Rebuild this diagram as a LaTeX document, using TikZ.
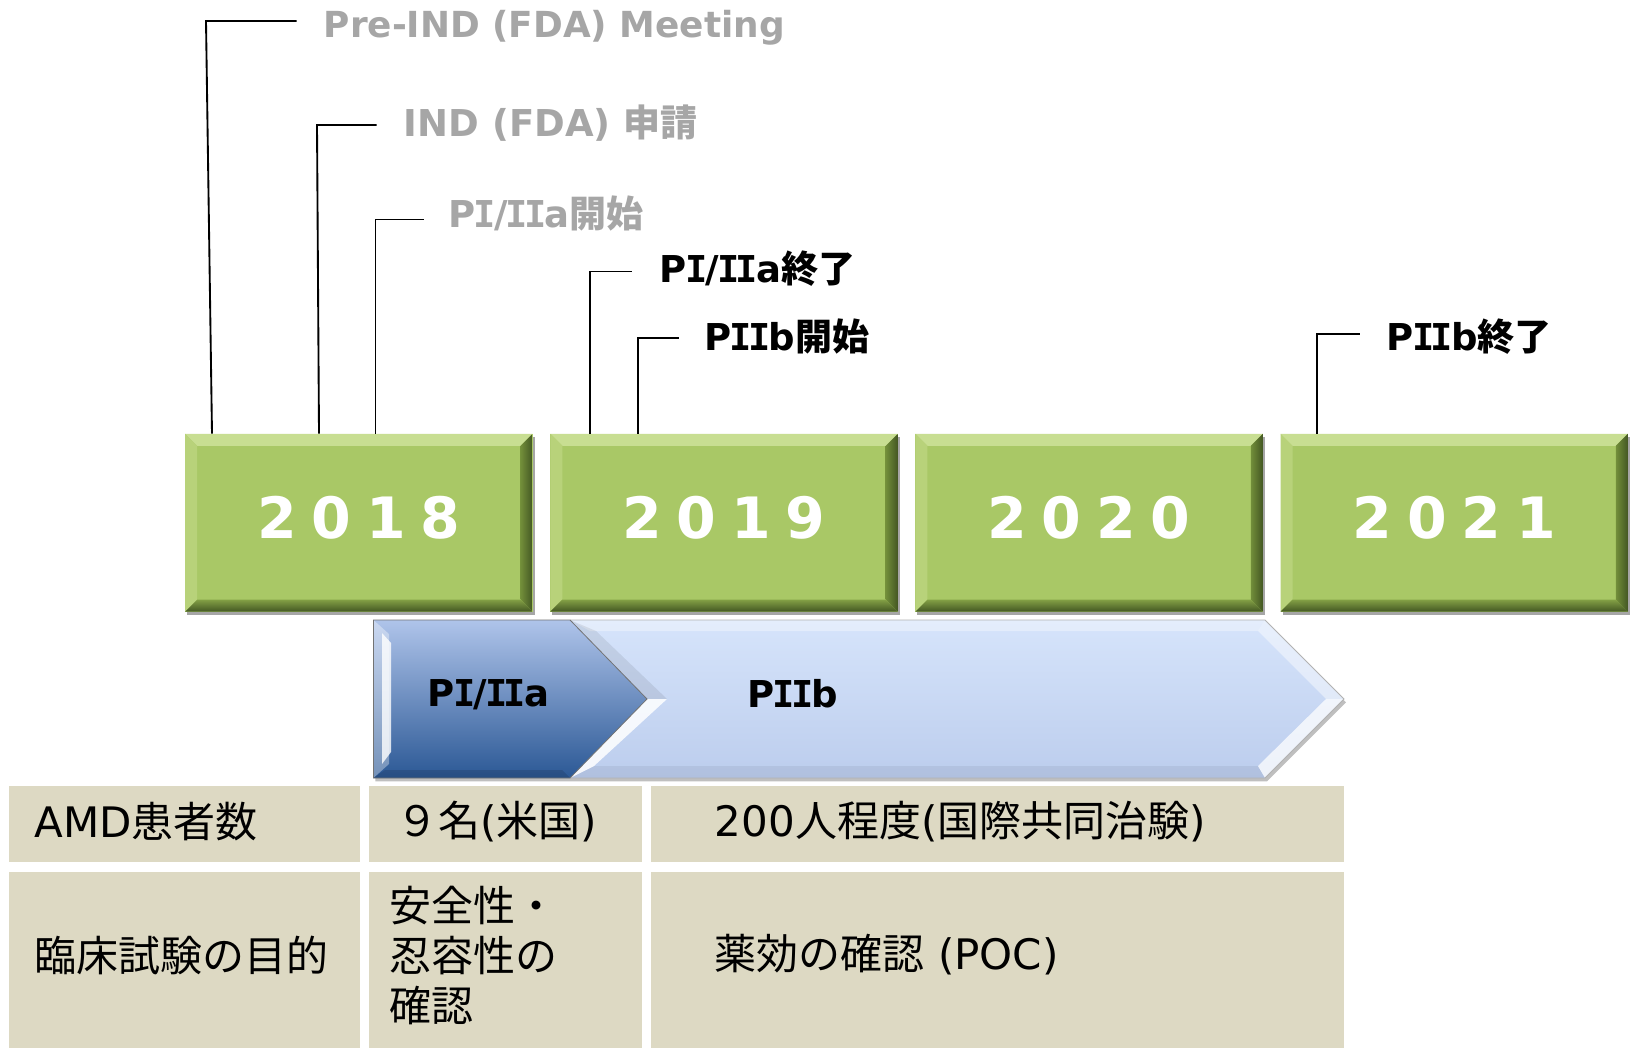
\documentclass[tikz,border=0pt]{standalone}
\usepackage{fontspec}
\setmainfont{DejaVu Sans}
\newfontfamily\jp{Noto Sans CJK JP}
\newfontfamily\serifI{DejaVu Sans Mono}
\usetikzlibrary{calc,shadows}
\definecolor{yrgreen}{HTML}{A9C866}
\definecolor{yrtop}{HTML}{C8DE92}
\definecolor{yrleft}{HTML}{B8D27A}
\definecolor{yrright}{HTML}{728E3A}
\definecolor{yrbot}{HTML}{83A045}
\definecolor{yrdark}{HTML}{435723}
\definecolor{lblgray}{HTML}{A6A6A6}
\definecolor{cellc}{HTML}{DDD9C3}
\definecolor{patop}{HTML}{AFC4EA}
\definecolor{pabot}{HTML}{2B5895}
\definecolor{pbtop}{HTML}{D6E4FB}
\definecolor{pbbot}{HTML}{BCCDED}
\newcommand{\lblfont}{\fontsize{27.75pt}{32pt}\selectfont\bfseries}
\newcommand{\yrfont}{\fontsize{42.75pt}{50pt}\selectfont\bfseries}
\newcommand{\tblfont}{\fontsize{31.5pt}{37.5pt}\selectfont}
\newcommand{\yeartxt}[4]{\raisebox{7.5pt}{#1\hspace{0.26em}#2\hspace{0.26em}#3\hspace{0.26em}#4}}
\newcommand{\SI}{{\serifI\bfseries\kern-0.05em I\kern-0.05em}}
\begin{document}
\begin{tikzpicture}[x=0.75pt,y=-0.75pt,
  leader/.style={line width=1.4pt, black},
  lbl/.style={anchor=west, inner sep=0pt, font=\lblfont},
  graylbl/.style={lbl, text=lblgray},
  blklbl/.style={lbl, text=black},
  yearbox/.style={rectangle, fill=yrgreen, inner sep=0pt,
    minimum width=260.55pt, minimum height=133.35pt,
    text=white, font=\yrfont,
    drop shadow={shadow xshift=1.5pt, shadow yshift=-2.5pt, opacity=0.35, fill=black},
    path picture={
      \path (path picture bounding box.north west) coordinate (bnw)
            (path picture bounding box.north east) coordinate (bne)
            (path picture bounding box.south west) coordinate (bsw)
            (path picture bounding box.south east) coordinate (bse);
      \fill[yrtop] (bnw) -- (bne) -- ($(bne)+(-9pt,-9pt)$) -- ($(bnw)+(9pt,-9pt)$) -- cycle;
      \fill[yrleft] (bnw) -- ($(bnw)+(9pt,-9pt)$) -- ($(bsw)+(9pt,9pt)$) -- (bsw) -- cycle;
      \shade[left color=yrright, right color=yrdark] (bne) -- (bse) -- ($(bse)+(-9pt,9pt)$) -- ($(bne)+(-9pt,-9pt)$) -- cycle;
      \shade[top color=yrbot, bottom color=yrdark] (bsw) -- (bse) -- ($(bse)+(-9pt,9pt)$) -- ($(bsw)+(9pt,9pt)$) -- cycle;
    }},
  cell/.style={rectangle, fill=cellc, inner sep=0pt},
  tbl/.style={anchor=west, inner sep=0pt, font=\tblfont, text=black},
  arrlbl/.style={anchor=west, inner sep=0pt, font=\lblfont, text=black}
]
\fill[white] (0,0) rectangle (1631,1048);
\useasboundingbox (0,0) rectangle (1631,1048);

% year boxes
\node[yearbox] (y2018) at (358.9,522.7) {\yeartxt{2}{0}{1}{8}};
\node[yearbox] (y2019) at (724.0,522.7) {\yeartxt{2}{0}{1}{9}};
\node[yearbox] (y2020) at (1089.1,522.7) {\yeartxt{2}{0}{2}{0}};
\node[yearbox] (y2021) at (1454.2,522.7) {\yeartxt{2}{0}{2}{1}};

% labels
\node[graylbl, font=\fontsize{26.9pt}{31pt}\selectfont\bfseries] (l1) at (323.5,28) {Pre-IND (FDA) Meeting};
\node[graylbl] (l2) at (403.6,123) {IND (FDA) {\jp\bfseries 申請}};
\node[graylbl] (l3) at (448.3,214) {P\SI/\SI\SI a{\jp\bfseries 開始}};
\node[blklbl] (l4) at (659.5,269) {P\SI/\SI\SI a{\jp\bfseries 終了}};
\node[blklbl] (l5) at (704.2,337) {P\SI\SI b{\jp\bfseries 開始}};
\node[blklbl] (l6) at (1386.6,337) {P\SI\SI b{\jp\bfseries 終了}};

% leader lines
\coordinate (p1b) at (212,434); \coordinate (p1t) at (206,21);  \coordinate (p1e) at (296.5,21);
\coordinate (p2b) at (319,434); \coordinate (p2t) at (317,125); \coordinate (p2e) at (376.6,125);
\coordinate (p3t) at (375.5,219.5); \coordinate (p3e) at (424.4,219.5);
\coordinate (p4t) at (589.8,271.5); \coordinate (p4e) at (632.4,271.5);
\coordinate (p5t) at (637.6,338); \coordinate (p5e) at (679.3,338);
\coordinate (p6t) at (1316.9,334); \coordinate (p6e) at (1359.5,334);
\draw[leader] (y2018.north -| p1b) -- (p1t) -- (p1e);
\draw[leader] (y2018.north -| p2b) -- (p2t) -- (p2e);
\draw[leader] (y2018.north -| p3t) -- (p3t) -- (p3e);
\draw[leader] (y2019.north -| p4t) -- (p4t) -- (p4e);
\draw[leader] (y2019.north -| p5t) -- (p5t) -- (p5e);
\draw[leader] (y2021.north -| p6t) -- (p6t) -- (p6e);

% phase arrows: shadows
\fill[black, opacity=0.25, shift={(1.5pt,-2.5pt)}] (373.4,620) -- (1265,620) -- (1344,699) -- (1265,778) -- (373.4,778) -- cycle;
% PIIb chevron
\shade[top color=pbtop, bottom color=pbbot] (570,620) -- (1265,620) -- (1344,699) -- (1265,778) -- (570,778) -- (647,699) -- cycle;
\fill[white, opacity=0.35] (570,620) -- (1265,620) -- (1258,631) -- (590,631) -- cycle;
\fill[black, opacity=0.06] (570,778) -- (1265,778) -- (1258,766) -- (594,766) -- cycle;
\fill[white, opacity=0.45] (1265,620) -- (1344,699) -- (1326,699) -- (1258,631) -- cycle;
\fill[white, opacity=0.75] (1344,699) -- (1265,778) -- (1258,766) -- (1326,699) -- cycle;
\fill[black, opacity=0.08] (570,620) -- (647,699) -- (667,699) -- (596,631) -- cycle;
\fill[white, opacity=0.85] (647,699) -- (570,778) -- (594,766) -- (667,699) -- cycle;
\draw[line width=0.6pt, draw=black!30] (570,620) -- (1265,620) -- (1344,699) -- (1265,778) -- (570,778);
% PI/IIa pentagon
\shade[top color=patop, bottom color=pabot] (373.4,620) -- (570,620) -- (647,699) -- (570,778) -- (373.4,778) -- cycle;
\fill[white, opacity=0.35] (373.4,620) -- (389,634) -- (389,764) -- (373.4,778) -- cycle;
\fill[white, opacity=0.8] (382,633) -- (391,643) -- (391,752) -- (382,764) -- cycle;
\fill[black, opacity=0.12] (373.4,778) -- (570,778) -- (562,770) -- (385,770) -- cycle;
\draw[line width=0.6pt, draw=black!55] (373.4,620) -- (570,620) -- (647,699) -- (570,778) -- (373.4,778) -- cycle;
\node[arrlbl] (piia) at (427.5,695) {P\SI/\SI\SI a};
\node[arrlbl] (piib) at (747,694) {P\SI\SI b};

% table
\node[cell, minimum width=262.95pt, minimum height=56.9pt] (c11) at (184.7,824.35) {};
\node[cell, minimum width=204.4pt, minimum height=56.9pt] (c12) at (505.55,824.35) {};
\node[cell, minimum width=519.6pt, minimum height=56.9pt] (c13) at (997.6,824.35) {};
\node[cell, minimum width=262.95pt, minimum height=132.2pt] (c21) at (184.7,959.85) {};
\node[cell, minimum width=204.4pt, minimum height=132.2pt] (c22) at (505.55,959.85) {};
\node[cell, minimum width=519.6pt, minimum height=132.2pt] (c23) at (997.6,959.85) {};

\node[tbl] (t11) at (34.3,822) {AMD{\jp 患者数}};
\node[tbl] (t12) at (396.3,822) {{\jp ９名}({\jp 米国})};
\node[tbl] (t13) at (714.6,822) {200{\jp 人程度}({\jp 国際共同治験})};
\node[tbl] (t21) at (34.3,955) {{\jp 臨床試験の目的}};
\node[tbl, align=left] (t22) at (389,955) {{\jp 安全性・}\\{\jp 忍容性の}\\{\jp 確認}};
\node[tbl] (t23) at (714.6,955) {{\jp 薬効の確認} (POC)};
\end{tikzpicture}
\end{document}
